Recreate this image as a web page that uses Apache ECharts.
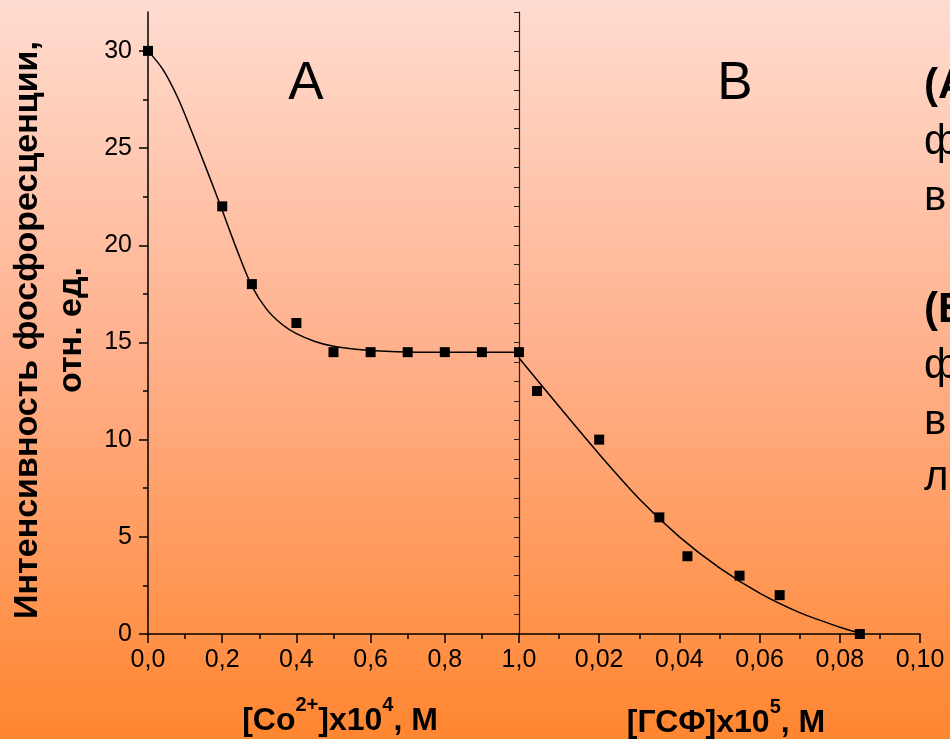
<!DOCTYPE html>
<html>
<head>
<meta charset="utf-8">
<script src="https://cdn.jsdelivr.net/npm/echarts@6/dist/echarts.min.js"></script>
<style>
  html, body { margin: 0; padding: 0; }
  #container { width: 950px; height: 739px; }
</style>
</head>
<body>
<div id="container"></div>
<script>
var dom = document.getElementById("container");
var myChart = echarts.init(dom);
var option;

// panel A: [Co2+]x10^4 vs intensity
var pointsA = [[0, 30], [0.2, 22], [0.28, 18], [0.4, 16], [0.5, 14.5], [0.6, 14.5], [0.7, 14.5], [0.8, 14.5], [0.9, 14.5], [1.0, 14.5]];
var curveAx = [0, 0.04, 0.08, 0.12, 0.16, 0.2, 0.24, 0.28, 0.32, 0.36, 0.4, 0.45, 0.5, 0.56, 0.64, 0.75, 0.9, 1.0];
var curveAy = [30, 29.05, 27.6, 25.75, 23.8, 21.8, 19.75, 17.9, 16.7, 15.95, 15.45, 15.05, 14.8, 14.65, 14.55, 14.5, 14.5, 14.5];

// panel B: [ГСФ]x10^5 vs intensity
var pointsB = [[0.0045, 12.5], [0.02, 10], [0.035, 6], [0.042, 4], [0.055, 3], [0.065, 2], [0.085, 0]];
var curveBx = [0, 0.01, 0.02, 0.03, 0.04, 0.05, 0.06, 0.07, 0.08, 0.085];
var curveBy = [14.2, 11.7, 9.25, 6.95, 5.0, 3.4, 2.1, 1.1, 0.35, 0.05];

// tick values for the left axis
var yMajorTicks = [0, 5, 10, 15, 20, 25, 30];
var yMinorTicks = [2.5, 7.5, 12.5, 17.5, 22.5, 27.5];

// text on the right edge (cut off in the original)
var sideLines = ["(А", "ф", "в", "", "(Б", "ф", "в", "л"];

function zip(xs, ys) {
  var out = [];
  for (var i = 0; i < xs.length; i++) {
    out.push([xs[i], ys[i]]);
  }
  return out;
}

var black = "#000";
var font = "Liberation Sans, Arial, sans-serif";
var tickFont = { fontSize: 25, color: black, fontFamily: font };

var sideText = [];
var k;
for (k = 0; k < sideLines.length; k++) {
  if (sideLines[k] === "") continue;
  sideText.push({
    type: "text",
    left: 924,
    top: 103 + k * 56 - 38,
    style: {
      text: sideLines[k],
      fontSize: 42,
      fontWeight: sideLines[k].charAt(0) === "(" ? "bold" : "normal",
      fontFamily: font,
      fill: black
    }
  });
}

//rich text styles for the axis titles with superscripts
var titleRich = {
  a: { fontSize: 32, fontWeight: "bold", fill: black, fontFamily: font, lineHeight: 42, verticalAlign: "bottom" },
  s: { fontSize: 20, fontWeight: "bold", fill: black, fontFamily: font, lineHeight: 42, verticalAlign: "top" }
};

option = {
  animation: false,
  backgroundColor: {
    type: "linear", x: 0, y: 0, x2: 0, y2: 1,
    colorStops: [
      { offset: 0, color: "#FFDCD0" },
      { offset: 0.5, color: "#FFAE88" },
      { offset: 1, color: "#FF8630" }
    ]
  },
  grid: [
    { left: 148, right: 431, top: 12, bottom: 105 },
    { left: 519, right: 30, top: 12, bottom: 105 }
  ],
  xAxis: [
    {
      gridIndex: 0, type: "value", min: 0, max: 1, interval: 0.2,
      axisLine: { lineStyle: { color: black, width: 1.5 } },
      axisTick: { length: 9, lineStyle: { color: black, width: 1.5 } },
      minorTick: { show: true, splitNumber: 2, length: 5, lineStyle: { color: black, width: 1.5 } },
      splitLine: { show: false },
      axisLabel: Object.assign({ margin: 14, formatter: function (v) { return v.toFixed(1).replace(".", ","); } }, tickFont)
    },
    {
      gridIndex: 1, type: "value", min: 0, max: 0.1, interval: 0.02,
      axisLine: { lineStyle: { color: black, width: 1.5 } },
      axisTick: { length: 9, lineStyle: { color: black, width: 1.5 } },
      minorTick: { show: true, splitNumber: 2, length: 5, lineStyle: { color: black, width: 1.5 } },
      splitLine: { show: false },
      axisLabel: Object.assign({ margin: 14, showMinLabel: false, formatter: function (v) { return v === 0 ? "" : v.toFixed(2).replace(".", ","); } }, tickFont)
    }
  ],
  yAxis: [
    {
      gridIndex: 0, type: "value", min: 0, max: 32, interval: 5, position: "left",
      axisLine: { show: true, lineStyle: { color: black, width: 1.5 } },
      axisTick: { show: true, length: 9, customValues: yMajorTicks, lineStyle: { color: black, width: 1.5 } },
      splitLine: { show: false },
      axisLabel: Object.assign({ margin: 16, customValues: yMajorTicks }, tickFont)
    },
    {
      gridIndex: 1, type: "value", min: 0, max: 32, interval: 1, position: "left",
      axisLine: { show: true, lineStyle: { color: "#222", width: 1.2 } },
      axisTick: { show: true, length: 5, lineStyle: { color: "#222", width: 1 } },
      splitLine: { show: false },
      axisLabel: { show: false }
    },
    {
      gridIndex: 0, type: "value", min: 0, max: 32, position: "left",
      axisLine: { show: false },
      axisTick: { show: true, length: 5, customValues: yMinorTicks, lineStyle: { color: black, width: 1.5 } },
      splitLine: { show: false },
      axisLabel: { show: false }
    }
  ],
  graphic: [
    {
      type: "text", x: 50, y: 330, rotation: Math.PI / 2,
      style: {
        text: "Интенсивность фосфоресценции,\nотн. ед.",
        fontSize: 34, fontWeight: "bold", lineHeight: 44,
        fontFamily: font,
        fill: black, align: "center", verticalAlign: "middle"
      }
    },
    {
      type: "text", x: 340, y: 716,
      style: { text: "{a|[Co}{s|2+}{a|]x10}{s|4}{a|, M}", align: "center", verticalAlign: "middle", rich: titleRich }
    },
    {
      type: "text", x: 726, y: 718,
      style: { text: "{a|[ГСФ]x10}{s|5}{a|, M}", align: "center", verticalAlign: "middle", rich: titleRich }
    },
    {
      type: "text", x: 306, y: 84,
      style: { text: "A", fontSize: 53, fill: black, align: "center", verticalAlign: "middle", fontFamily: font }
    },
    {
      type: "text", x: 735, y: 84,
      style: { text: "B", fontSize: 53, fill: black, align: "center", verticalAlign: "middle", fontFamily: font }
    }
  ].concat(sideText),
  series: [
    {
      type: "line", xAxisIndex: 0, yAxisIndex: 0,
      data: zip(curveAx, curveAy), smooth: 0.3, showSymbol: false,
      lineStyle: { color: black, width: 1.5 }
    },
    {
      type: "scatter", xAxisIndex: 0, yAxisIndex: 0,
      data: pointsA, symbol: "rect", symbolSize: 10,
      itemStyle: { color: black, opacity: 1 }
    },
    {
      type: "line", xAxisIndex: 1, yAxisIndex: 1,
      data: zip(curveBx, curveBy), smooth: 0.3, showSymbol: false,
      lineStyle: { color: black, width: 1.5 }
    },
    {
      type: "scatter", xAxisIndex: 1, yAxisIndex: 1,
      data: pointsB, symbol: "rect", symbolSize: 10,
      itemStyle: { color: black, opacity: 1 }
    }
  ]
};

myChart.setOption(option);
</script>
</body>
</html>
